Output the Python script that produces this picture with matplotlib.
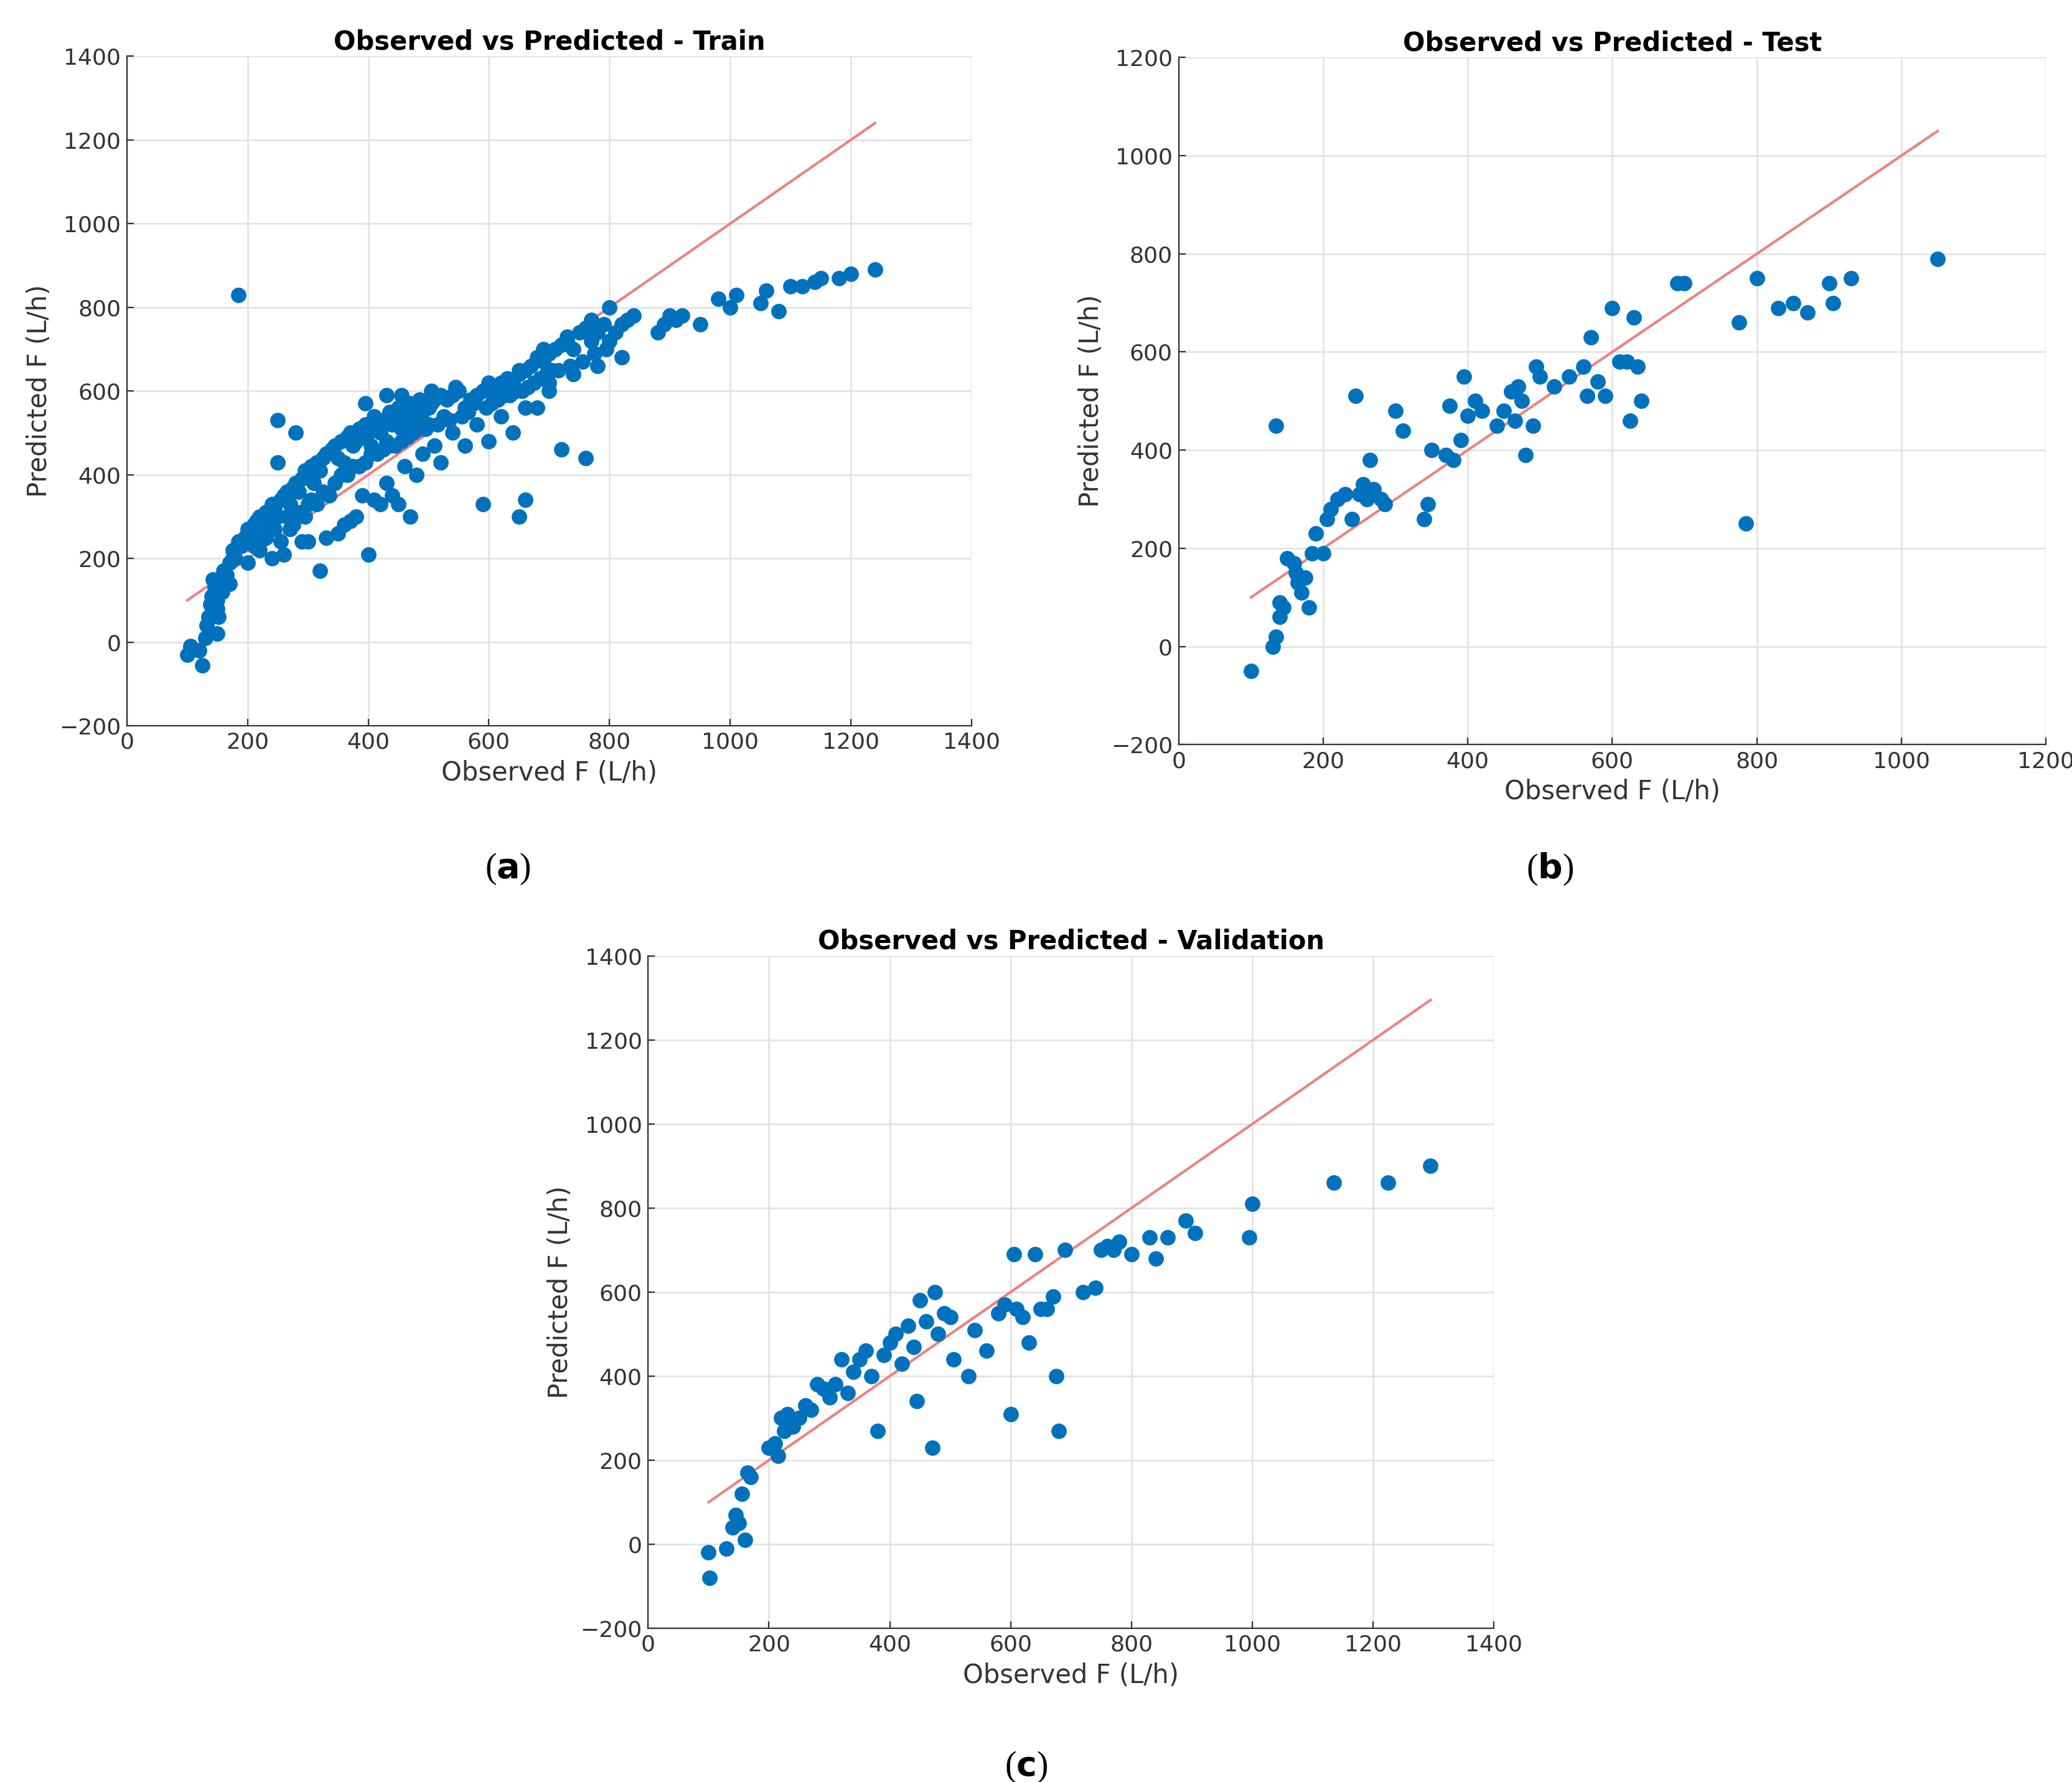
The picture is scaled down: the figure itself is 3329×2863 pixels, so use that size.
import matplotlib
matplotlib.use("Agg")
import matplotlib.pyplot as plt

train_obs = [100,105,120,125,130,132,135,138,140,142,145,148,150,152,155,158,160,165,170,175,180,185,190,195,200,205,210,215,220,225,230,235,240,245,250,255,260,265,270,275,280,285,290,295,300,305,310,315,320,325,330,340,345,350,355,360,365,370,375,380,385,390,395,400,405,410,415,420,425,430,435,440,445,450,455,460,465,470,475,480,485,490,500,505,510,520,530,540,550,560,570,580,590,600,610,620,630,640,650,660,670,680,690,700,710,720,730,740,750,760,770,780,790,800,810,820,830,840,880,890,900,910,920,950,980,1000,1010,1050,1060,1080,1100,1120,1140,1150,1180,1200,1240,
             185,250,280,320,400,410,450,470,500,590,650,660,700,720,760,240,260,300,330,360,380,420,440,480,520,560,600,640,680,140,150,160,170,200,220,230,250,270,290,350,370,390,430,460,490,510,540,580,620,660,700,740,780,820,150,175,210,245,300,395,430,455,505,545,600,650,690,730,770,800,
             210,230,255,275,295,315,335,355,375,395,415,435,455,475,495,515,535,555,575,595,615,635,655,675,695,715,735,755,775,795,265,285,305,325,345,365,385,405,425,445,465,485,525,565,605,625,645,665,685,705]
train_pred = [-30,-10,-20,-55,10,40,60,90,110,150,130,100,80,60,140,120,170,160,190,220,200,240,230,250,270,260,280,290,300,250,310,280,330,320,300,340,350,360,330,370,380,360,390,410,400,420,380,430,410,440,450,460,470,440,480,430,490,500,470,480,510,490,520,500,470,540,520,500,530,480,550,520,540,560,510,550,530,570,560,540,580,550,560,570,580,590,580,590,600,560,580,590,600,610,600,620,630,620,640,650,660,680,670,690,700,710,720,700,740,750,720,740,760,720,740,760,770,780,740,760,780,770,780,760,820,800,830,810,840,790,850,850,860,870,870,880,890,
              830,530,500,170,210,340,330,300,520,330,300,340,600,460,440,200,210,240,250,280,300,330,350,400,430,470,480,500,560,60,100,130,140,190,220,250,430,270,240,260,290,350,380,420,450,470,500,520,540,560,620,640,660,680,20,200,230,270,330,570,590,590,600,610,620,650,700,730,770,800,
              230,260,240,280,300,330,350,400,420,430,450,470,480,500,510,520,530,540,570,560,580,590,600,620,640,650,660,670,690,700,300,310,340,360,380,400,420,450,460,470,490,510,540,550,570,590,600,610,630,650]

test_obs = [100,130,135,140,145,140,150,160,162,165,170,175,180,185,190,200,205,210,220,230,240,250,255,260,265,270,280,285,300,310,340,345,350,370,375,380,390,395,400,410,420,440,450,460,465,470,475,480,490,495,500,520,540,560,565,570,580,590,600,610,620,625,630,635,640,690,700,775,785,800,830,850,870,900,905,930,1050,135,245]
test_pred = [-50,0,20,60,80,90,180,170,150,130,110,140,80,190,230,190,260,280,300,310,260,310,330,300,380,320,300,290,480,440,260,290,400,390,490,380,420,550,470,500,480,450,480,520,460,530,500,390,450,570,550,530,550,570,510,630,540,510,690,580,580,460,670,570,500,740,740,660,250,750,690,700,680,740,700,750,790,450,510]

val_obs = [100,102,130,140,145,150,155,160,165,170,200,210,215,220,225,230,240,250,260,270,280,290,300,310,320,330,340,350,360,370,380,390,400,410,420,430,440,445,450,460,470,475,480,490,500,505,530,540,560,580,590,600,605,610,620,630,640,650,660,670,675,680,690,720,740,750,760,770,780,800,830,840,860,890,905,995,1000,1135,1225,1295]
val_pred = [-20,-80,-10,40,70,50,120,10,170,160,230,240,210,300,270,310,280,300,330,320,380,370,350,380,440,360,410,440,460,400,270,450,480,500,430,520,470,340,580,530,230,600,500,550,540,440,400,510,460,550,570,310,690,560,540,480,690,560,560,590,400,270,700,600,610,700,710,700,720,690,730,680,730,770,740,730,810,860,860,900]

blue = "#0072BD"
red = "#F08080"

fig = plt.figure(figsize=(16.65, 14.315), dpi=200)
W, H = 1551, 1333
def ax_at(l, r, t, b):
    return fig.add_axes([l/W, 1-b/H, (r-l)/W, (b-t)/H])

panels = [
    ((95, 727, 42, 543), train_obs, train_pred, "Observed vs Predicted - Train", (0, 1400), (-200, 1400), 1240, "a", 380, 650),
    ((882, 1531, 43, 557), test_obs, test_pred, "Observed vs Predicted - Test", (0, 1200), (-200, 1200), 1050, "b", 1160, 650),
    ((485, 1118, 715, 1218), val_obs, val_pred, "Observed vs Predicted - Validation", (0, 1400), (-200, 1400), 1295, "c", 768, 1322),
]
for box, xo, yp, title, xl, yl, mx, lab, lx, ly in panels:
    ax = ax_at(*box)
    ax.scatter(xo, yp, s=80, color=blue, zorder=3, linewidths=0)
    ax.plot([100, mx], [100, mx], color=red, lw=1.5, zorder=2)
    ax.set_xlim(*xl); ax.set_ylim(*yl)
    ax.set_xticks(range(xl[0], xl[1]+1, 200))
    ax.set_yticks(range(yl[0], yl[1]+1, 200))
    ax.set_yticklabels([("\u2212" + str(-v)) if v < 0 else str(v) for v in range(yl[0], yl[1]+1, 200)])
    ax.grid(True, color="#e3e3e3", lw=1)
    ax.set_axisbelow(True)
    for s in ["top", "right"]:
        ax.spines[s].set_visible(False)
    for s in ["left", "bottom"]:
        ax.spines[s].set_color("#333333")
    ax.tick_params(labelsize=13, colors="#333333", direction="in", length=4)
    ax.set_xlabel("Observed F (L/h)", fontsize=15, color="#333333")
    ax.set_ylabel("Predicted F (L/h)", fontsize=15, color="#333333")
    ax.set_title(title, fontsize=15, fontweight="bold", pad=4)
    fig.text(lx/W, 1-ly/H, "(" + r"$\mathbf{" + lab + "}$" + ")", fontsize=20,
             family="Liberation Serif", ha="center", va="center")

fig.savefig("out.png", dpi=200)
